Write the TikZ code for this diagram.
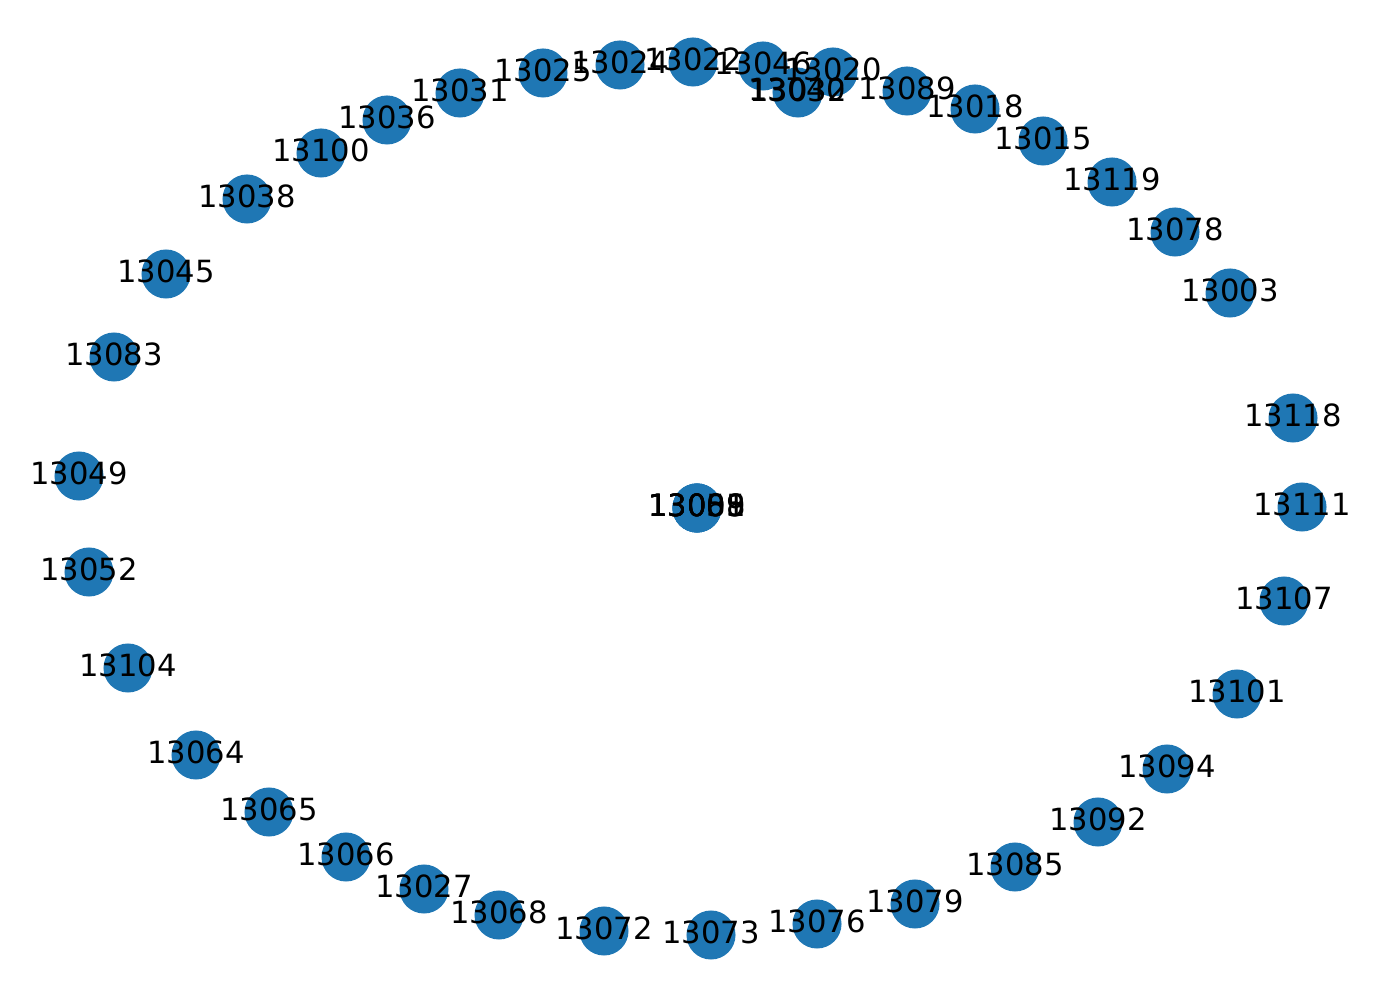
\documentclass[tikz,border=0pt]{standalone}
\usepackage{fontspec}
\setmainfont{DejaVu Sans}
\definecolor{nodeblue}{HTML}{1F77B4}
\tikzset{
  vertex/.style={circle,fill=nodeblue,minimum size=0.49cm,inner sep=0pt},
  vlabel/.style={font=\fontsize{8.7}{10}\selectfont,inner sep=0pt,text=black,yshift=0.03cm}
}
\begin{document}
\begin{tikzpicture}[x=0.01cm,y=-0.01cm]
\useasboundingbox (0,0) rectangle (1382,998);

% nodes on the ring (pixel positions)
\foreach \n/\x/\y in {13025/543/73, 13024/620/65, 13022/693/62, 13046/763/66,
  13020/833/72, 13040/797/92, 13032/798/93, 13089/907/91, 13018/975/109,
  13015/1043/141, 13119/1112/182, 13078/1175/232, 13003/1230/293,
  13118/1293/418, 13111/1302/507, 13107/1284/601, 13101/1237/694,
  13094/1167/769, 13092/1098/822, 13085/1015/867, 13079/915/904,
  13076/817/924, 13073/711/935, 13072/604/931, 13068/499/915,
  13027/424/889, 13066/346/857, 13065/269/812, 13064/196/755,
  13104/128/668, 13052/89/572, 13049/79/476, 13083/114/357,
  13045/166/274, 13038/247/199, 13100/321/153, 13036/387/120,
  13031/460/93}
  \node[vertex] (n\n) at (\x,\y) {};

% nodes stacked in the middle
\foreach \n in {13001,13055,13088,13009}
  \node[vertex] (n\n) at (697,508) {};

% labels go on top
\foreach \n in {13025,13024,13022,13046,13020,13040,13032,13089,13018,13015,
  13119,13078,13003,13118,13111,13107,13101,13094,13092,13085,13079,13076,
  13073,13072,13068,13027,13066,13065,13064,13104,13052,13049,13083,13045,
  13038,13100,13036,13031,13001,13055,13088,13009}
  \node[vlabel] at (n\n) {\n};

\end{tikzpicture}
\end{document}
